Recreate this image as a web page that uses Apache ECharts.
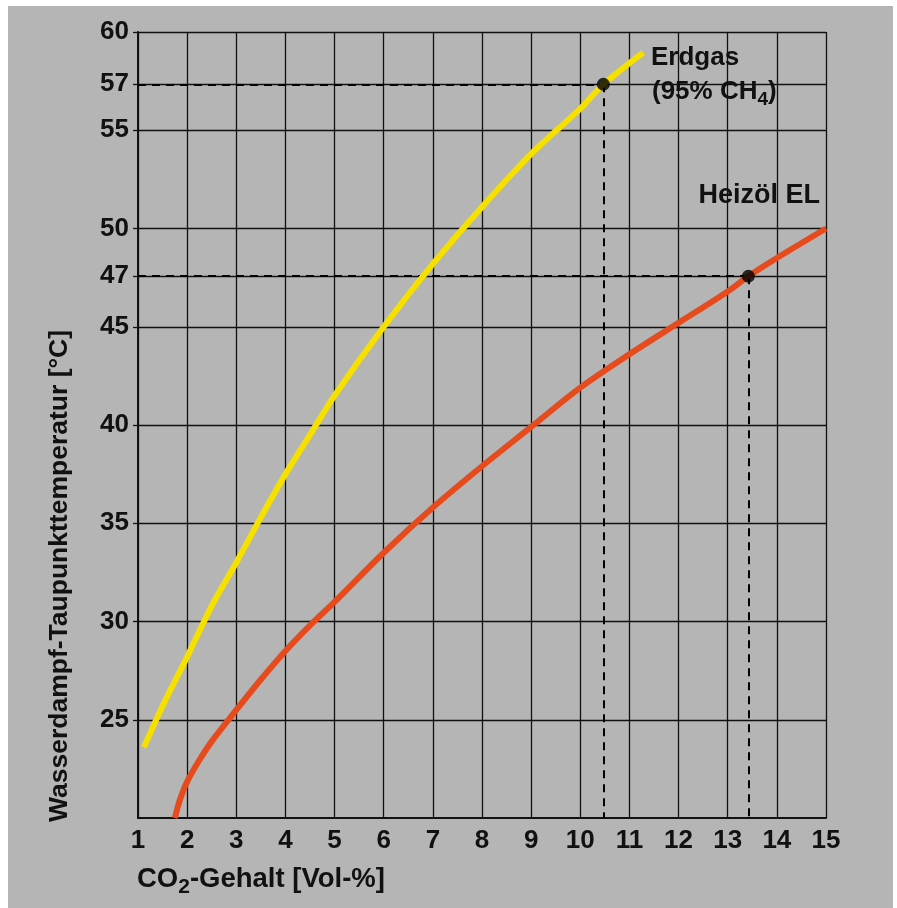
<!DOCTYPE html>
<html><head><meta charset="utf-8">
<script src="https://cdn.jsdelivr.net/npm/echarts@6/dist/echarts.min.js"></script>
<style>html,body{margin:0;padding:0;background:#fff}#c{width:897px;height:908px}</style>
</head><body><div id="c"></div>
<script>
// ---- data ----
const xTicks = [1,2,3,4,5,6,7,8,9,10,11,12,13,14,15];
const yTickValues = [25,30,35,40,45,47.57,50,55,57.34,60];
const yTickLabels = ['25','30','35','40','45','47','50','55','57','60'];

const erdgasX = [1.12,1.5,2,2.5,3,3.5,4,4.5,5,6,7,8,9,10,10.47,11.28];
const erdgasY = [23.6,25.7,28.2,30.8,33.0,35.3,37.5,39.5,41.5,45.0,48.2,51.1,53.8,56.1,57.34,58.95];

const heizoelX = [1.75,1.85,2,2.25,2.5,3,3.5,4,4.5,5,6,7,8,9,10,11,12,13,13.42,14,15];
const heizoelY = [20.0,20.9,21.85,22.95,23.9,25.5,27.05,28.5,29.8,31.0,33.5,35.8,37.9,39.9,41.9,43.6,45.2,46.8,47.57,48.5,50.0];

const erdgasPoint = [10.47, 57.34];
const heizoelPoint = [13.42, 47.57];

const labelErdgas1 = 'Erdgas';
const labelErdgas2 = ['(95% CH', '4', ')'];
const labelHeizoel = 'Heizöl EL';
const xTitle = ['CO', '2', '-Gehalt [Vol-%]'];
const yTitle = 'Wasserdampf-Taupunkttemperatur [°C]';

// ---- chart ----
const FONT = '"Liberation Sans", Arial, sans-serif';
const INK = '#111';
const zip = (xs, ys) => xs.map((x, i) => [x, ys[i]]);
const chart = echarts.init(document.getElementById('c'), null, {renderer: 'canvas'});

const yMin = 20;
chart.setOption({
  animation: false,
  backgroundColor: '#fff',
  grid: {left: 138, right: 71, top: 32, bottom: 90, containLabel: false},
  xAxis: {
    type: 'value', min: 1, max: 15, interval: 1,
    axisLine: {show: true, onZero: false, lineStyle: {color: INK, width: 2}},
    axisTick: {show: false},
    axisLabel: {customValues: xTicks, color: INK, fontFamily: FONT, fontWeight: 'bold', fontSize: 26, margin: 10},
    splitLine: {show: true, lineStyle: {color: INK, width: 1.3}}
  },
  yAxis: {
    type: 'value', min: yMin, max: 60, interval: 5,
    axisLine: {show: true, onZero: false, lineStyle: {color: INK, width: 2}},
    axisTick: {show: true, customValues: yTickValues, length: 5, lineStyle: {color: INK, width: 1.3}},
    axisLabel: {
      customValues: yTickValues, color: INK, fontFamily: FONT, fontWeight: 'bold', fontSize: 26, margin: 9,
      formatter: v => { const i = yTickValues.findIndex(t => Math.abs(t - v) < 1e-6); return i >= 0 ? yTickLabels[i] : ''; }
    },
    splitLine: {show: true, lineStyle: {color: INK, width: 1.3}}
  },
  graphic: [
    {type: 'rect', z: -100, silent: true, shape: {x: 8, y: 6, width: 885, height: 902}, style: {fill: '#b5b5b5'}},
    {type: 'text', z: 100, x: 651, y: 58, style: {text: labelErdgas1, font: 'bold 26px ' + FONT, fill: INK, textAlign: 'left', textVerticalAlign: 'middle'}},
    {type: 'text', z: 100, x: 652, y: 92, style: {
      text: '{a|' + labelErdgas2[0] + '}{s|' + labelErdgas2[1] + '}{a|' + labelErdgas2[2] + '}',
      textAlign: 'left', textVerticalAlign: 'middle',
      rich: {a: {fontFamily: FONT, fontWeight: 'bold', fontSize: 26, fill: INK, color: INK},
             s: {fontFamily: FONT, fontWeight: 'bold', fontSize: 19, fill: INK, color: INK, padding: [16, 0, 0, 0]}}
    }},
    {type: 'text', z: 100, x: 820, y: 196, style: {text: labelHeizoel, font: 'bold 27px ' + FONT, fill: INK, textAlign: 'right', textVerticalAlign: 'middle'}},
    {type: 'text', z: 100, x: 137, y: 879, style: {
      text: '{a|' + xTitle[0] + '}{s|' + xTitle[1] + '}{a|' + xTitle[2] + '}',
      textAlign: 'left', textVerticalAlign: 'middle',
      rich: {a: {fontFamily: FONT, fontWeight: 'bold', fontSize: 27.5, fill: INK, color: INK},
             s: {fontFamily: FONT, fontWeight: 'bold', fontSize: 21, fill: INK, color: INK, padding: [16, 0, 0, 0]}}
    }},
    {type: 'text', z: 100, x: 60, y: 576, rotation: Math.PI / 2, style: {text: yTitle, font: 'bold 26.5px ' + FONT, fill: INK, textAlign: 'center', textVerticalAlign: 'middle'}}
  ],
  series: [
    {
      name: 'Heizöl EL', type: 'line', data: zip(heizoelX, heizoelY), showSymbol: false,
      smooth: 0.3, z: 3,
      lineStyle: {color: '#e64b1e', width: 6, cap: 'butt'}
    },
    {
      name: 'Erdgas', type: 'line', data: zip(erdgasX, erdgasY), showSymbol: false,
      smooth: 0.3, z: 3,
      lineStyle: {color: '#f5e000', width: 6, cap: 'butt'}
    },
    {
      name: 'Punkte', type: 'scatter', data: [erdgasPoint, heizoelPoint], symbolSize: 13, z: 5,
      itemStyle: {color: '#000'},
      markLine: {
        silent: true, symbol: 'none', label: {show: false}, z: 2,
        lineStyle: {color: '#000', width: 2, type: [8, 6]},
        data: [
          [{coord: [1, erdgasPoint[1]]}, {coord: erdgasPoint}],
          [{coord: erdgasPoint}, {coord: [erdgasPoint[0], yMin]}],
          [{coord: [1, heizoelPoint[1]]}, {coord: heizoelPoint}],
          [{coord: heizoelPoint}, {coord: [heizoelPoint[0], yMin]}]
        ]
      }
    }
  ]
});
</script></body></html>
